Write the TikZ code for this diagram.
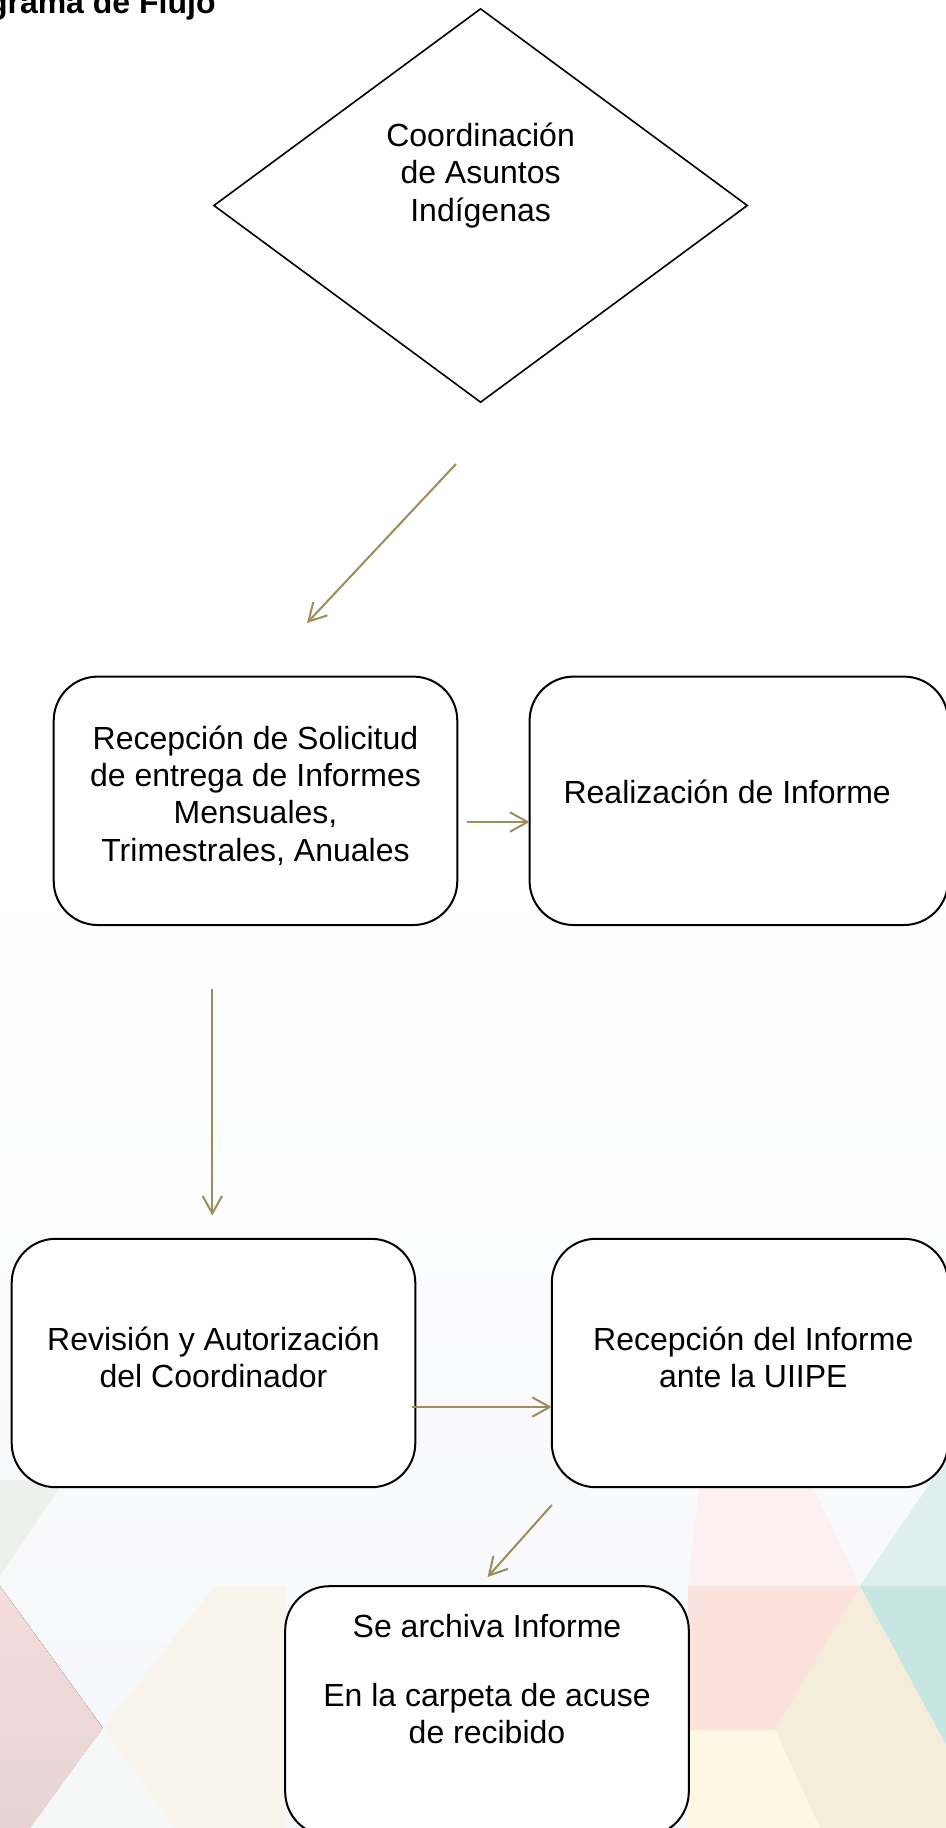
\documentclass[tikz,border=0pt]{standalone}
\usepackage{fontspec}
\setmainfont{Liberation Sans}
\usetikzlibrary{arrows.meta, positioning, shapes.geometric}

\definecolor{flowgold}{RGB}{158,140,90}
\definecolor{bgblue}{RGB}{246,247,250}
\definecolor{bgpink}{RGB}{244,220,219}
\definecolor{bgpinkdark}{RGB}{232,212,212}
\definecolor{bgcream}{RGB}{250,245,236}
\definecolor{bggrey}{RGB}{238,240,236}
\definecolor{bgwhite}{RGB}{246,248,248}
\definecolor{bgpalepink}{RGB}{253,240,242}
\definecolor{bgpaleteal}{RGB}{222,239,237}
\definecolor{bgteal}{RGB}{198,229,227}
\definecolor{bgsalmon}{RGB}{252,226,220}
\definecolor{bgbeige}{RGB}{243,237,218}
\definecolor{bgyellow}{RGB}{254,247,228}

\begin{document}
\begin{tikzpicture}[
    x=0.5pt, y=-0.5pt,
    >={Straight Barb[length=8.75pt,width=9.7pt]},
    every node/.style={font=\fontsize{16}{18.6}\selectfont, align=center},
    box/.style={draw, line width=1pt, fill=white, rounded corners=22pt, minimum width=201.8pt, minimum height=124.2pt},
    flow/.style={->, draw=flowgold, line width=1pt}
]
\useasboundingbox (0,0) rectangle (946,1828);

% Background
\fill[white] (0,0) rectangle (946,1828);
\fill[top color=white, bottom color=bgblue] (0,850) rectangle (946,1828);
\fill[bggrey] (0,1480) -- (65,1480) -- (0,1576) -- cycle;
\fill[top color=bgpink, bottom color=bgpinkdark] (0,1586) -- (103,1728) -- (30,1828) -- (0,1828) -- cycle;
\fill[bgcream] (103,1728) -- (215,1586) -- (286,1586) -- (286,1828) -- (175,1828) -- cycle;
\fill[bgwhite] (103,1728) -- (175,1828) -- (30,1828) -- cycle;
\fill[bgpalepink] (700,1480) -- (810,1480) -- (860,1586) -- (688,1586) -- cycle;
\fill[bgpaleteal] (946,1460) -- (946,1586) -- (860,1586) -- cycle;
\fill[bgteal] (860,1586) -- (946,1586) -- (946,1745) -- cycle;
\fill[bgsalmon] (688,1586) -- (860,1586) -- (775,1730) -- (688,1730) -- cycle;
\fill[bgbeige] (860,1586) -- (946,1745) -- (946,1828) -- (820,1828) -- (775,1730) -- cycle;
\fill[bgyellow] (688,1730) -- (775,1730) -- (820,1828) -- (688,1828) -- cycle;

% Title
\node[font=\fontsize{16}{18.6}\selectfont\bfseries, anchor=base east, inner sep=0pt] (title) at (216,13) {Diagrama de Flujo};

% Nodes
\node[diamond, draw, line width=0.8pt, fill=white, minimum width=267pt, minimum height=197pt, inner sep=0pt] (coord) at (480.6,205.5) {};
\node (coordtxt) at ([yshift=15pt]coord.center) {Coordinación\\de Asuntos\\Indígenas};

\node[box] (recep) at (255.5,800.8) {};
\node (recepTxt) at ([yshift=2.6pt]recep.center) {Recepción de Solicitud\\de entrega de Informes\\Mensuales,\\Trimestrales, Anuales};
\node[box, minimum width=209.2pt] (realiz) at (738.8,800.8) {};
\node (realizTxt) at ([xshift=-5.8pt, yshift=4.7pt]realiz.center) {Realización de Informe};
\node[box] (revis) at (213.5,1363) {};
\node (revisTxt) at ([yshift=2.8pt]revis.center) {Revisión y Autorización\\del Coordinador};
\node[box, minimum width=198.1pt] (entrega) at (749.9,1363) {};
\node (entregaTxt) at ([xshift=1.7pt, yshift=2.8pt]entrega.center) {Recepción del Informe\\ante la UIIPE};
\node[box, minimum height=124.8pt] (archivo) at (487,1711) {};
\node[below=11pt of archivo.north] (archivoTxt) {Se archiva Informe\\[16pt]En la carpeta de acuse\\de recibido};

% Arrow ends
\coordinate (a1s) at (456,464);
\coordinate (a1e) at (307,623);
\coordinate (a2s) at (466.6,822);
\coordinate (a2e) at (529.6,822);
\coordinate (a3s) at (212.3,989);
\coordinate (a3e) at (212.3,1215.5);
\coordinate (a4s) at (411.8,1407);
\coordinate (a4e) at (551.8,1407);
\coordinate (a5s) at (551.8,1505);
\coordinate (a5e) at (487.6,1577);

% Connectors
\draw[flow] (a1s) -- (a1e);
\draw[flow] (a2s) -- (a2e);
\draw[flow] (a3s) -- (a3e);
\draw[flow] (a4s) -- (a4e);
\draw[flow] (a5s) -- (a5e);

\end{tikzpicture}
\end{document}
